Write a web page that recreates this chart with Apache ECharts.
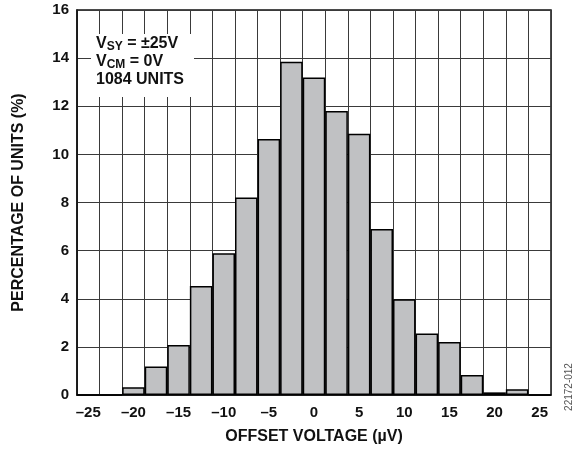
<!DOCTYPE html>
<html>
<head>
<meta charset="utf-8">
<script src="https://cdn.jsdelivr.net/npm/echarts@6/dist/echarts.min.js"></script>
<style>html,body{margin:0;padding:0;background:#fff}#c{width:580px;height:450px}</style>
</head>
<body>
<div id="c"></div>
<script>
// Bin centers (µV), bin width 2.5
var categories = ['-25','-22.5','-20','-17.5','-15','-12.5','-10','-7.5','-5','-2.5','0','2.5','5','7.5','10','12.5','15','17.5','20','22.5','25'];
// Percentage of units per bin
var percentages = [0, 0, 0.32, 1.18, 2.08, 4.53, 5.89, 8.21, 10.64, 13.85, 13.20, 11.80, 10.86, 6.90, 3.98, 2.56, 2.20, 0.83, 0.11, 0.24, 0];
var yTicks = {min: 0, max: 16, interval: 2};
var xTitle = 'OFFSET VOLTAGE (µV)';
var yTitle = 'PERCENTAGE OF UNITS (%)';

var FONT = '"Liberation Sans", Arial, sans-serif';
var chart = echarts.init(document.getElementById('c'), null, {renderer: 'canvas'});
chart.setOption({
  animation: false,
  backgroundColor: '#fff',
  grid: {left: 77, right: 29, top: 10, bottom: 55, show: true, borderColor: '#111', borderWidth: 1.5, backgroundColor: 'transparent'},
  xAxis: {
    type: 'category',
    data: categories,
    boundaryGap: true,
    name: xTitle,
    nameLocation: 'middle',
    nameGap: 34,
    nameTextStyle: {fontFamily: FONT, fontWeight: 'bold', fontSize: 16, color: '#111'},
    axisLine: {show: true, lineStyle: {color: '#111', width: 1.5}},
    axisTick: {show: false, interval: 0},
    axisLabel: {interval: 1, margin: 10, fontFamily: FONT, fontWeight: 'bold', fontSize: 15, color: '#111',
      formatter: function (v) { return v.replace('-', '\u2013'); }},
    splitLine: {show: true, interval: 0, lineStyle: {color: '#3a3a3a', width: 1}}
  },
  yAxis: {
    type: 'value',
    min: yTicks.min, max: yTicks.max, interval: yTicks.interval,
    name: yTitle,
    nameLocation: 'middle',
    nameGap: 50,
    nameTextStyle: {fontFamily: FONT, fontWeight: 'bold', fontSize: 16, color: '#111'},
    axisLine: {show: true, lineStyle: {color: '#111', width: 1.5}},
    axisTick: {show: false},
    axisLabel: {margin: 8, fontFamily: FONT, fontWeight: 'bold', fontSize: 15, color: '#111'},
    splitLine: {show: true, lineStyle: {color: '#3a3a3a', width: 1}}
  },
  series: [{
    type: 'bar',
    data: percentages,
    barCategoryGap: '0%',
    itemStyle: {color: '#c0c1c3', borderColor: '#000', borderWidth: 1.5}
  }],
  graphic: [
    {type: 'rect', left: 91, top: 34, shape: {width: 103, height: 63}, style: {fill: '#fff'}, z: 10},
    {type: 'text', left: 96, top: 36, z: 11, style: {
      text: '{v|V}{s|SY}{v| = \u00b125V}\n{v|V}{s|CM}{v| = 0V}\n{v|1084 UNITS}',
      rich: {
        v: {fontFamily: FONT, fontWeight: 'bold', fontSize: 16, lineHeight: 18, fill: '#111', verticalAlign: 'middle'},
        s: {fontFamily: FONT, fontWeight: 'bold', fontSize: 12, lineHeight: 12, fill: '#111', verticalAlign: 'bottom'}
      }
    }},
    {type: 'text', x: 569, y: 387, rotation: Math.PI / 2, z: 11, style: {
      text: '22172-012', fontFamily: FONT, fontSize: 10, fill: '#555', align: 'center', verticalAlign: 'middle'
    }}
  ]
});
</script>
</body>
</html>
